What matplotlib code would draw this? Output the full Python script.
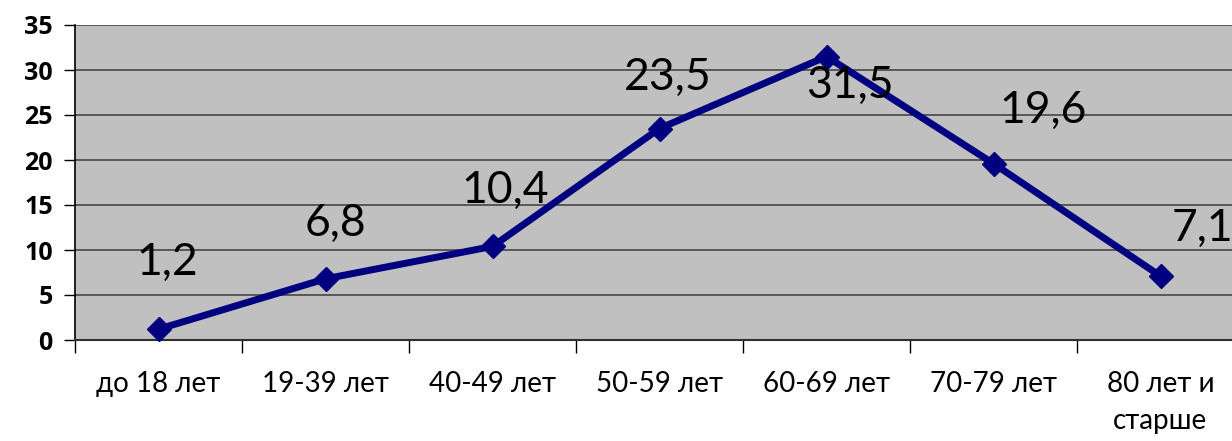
import matplotlib
matplotlib.use("Agg")
import matplotlib.pyplot as plt
from matplotlib.ticker import FixedLocator, NullFormatter

# возрастные группы и доля (%)
groups = ["до 18 лет", "19-39 лет", "40-49 лет", "50-59 лет",
          "60-69 лет", "70-79 лет", "80 лет и\nстарше"]
values = [1.2, 6.8, 10.4, 23.5, 31.5, 19.6, 7.1]
value_labels = ["1,2", "6,8", "10,4", "23,5", "31,5", "19,6", "7,1"]
y_ticks = [0, 5, 10, 15, 20, 25, 30, 35]

# смещения подписей значений (в пунктах)
label_offsets = [(6, 48), (7, 40), (9, 40), (6, 37), (17, -21), (36, 38), (30, 34)]

plt.rcParams["font.family"] = ["Lato", "DejaVu Sans"]

fig = plt.figure(figsize=(12.32, 4.41), dpi=100)
ax = fig.add_axes([75 / 1232, 101 / 441, 1169 / 1232, 315 / 441])
ax.set_facecolor("#c0c0c0")

x = list(range(len(groups)))
ax.plot(x, values, color="#000080", lw=5, marker="D", ms=12,
        mfc="#000080", mec="#000080", zorder=3, clip_on=False)

for xi, v, txt, off in zip(x, values, value_labels, label_offsets):
    ax.annotate(txt, (xi, v), xytext=off, textcoords="offset points",
                ha="center", va="center", fontsize=32, color="black",
                zorder=4, annotation_clip=False)

ax.set_xlim(-0.5, len(groups) - 0.5)
ax.set_ylim(0, 35)
ax.set_yticks(y_ticks)
ax.set_yticklabels([str(t) for t in y_ticks], fontsize=18, fontweight="bold",
                   family=["Open Sans", "DejaVu Sans"])
ax.tick_params(axis="y", direction="out", length=8, width=1, pad=8)

ax.xaxis.set_major_locator(FixedLocator([i - 0.5 for i in range(len(groups) + 1)]))
ax.xaxis.set_major_formatter(NullFormatter())
ax.xaxis.set_minor_locator(FixedLocator(x))
ax.set_xticklabels(groups, minor=True, fontsize=20, linespacing=1.55)
ax.tick_params(axis="x", which="major", direction="out", length=9, width=1)
ax.tick_params(axis="x", which="minor", length=0, pad=22)

ax.grid(axis="y", color="#505050", lw=1.3)
ax.set_axisbelow(True)
for side in ("top", "right"):
    ax.spines[side].set_visible(False)
ax.spines["left"].set_color("black")
ax.spines["bottom"].set_color("#303030")
ax.spines["left"].set_linewidth(1.2)
ax.spines["bottom"].set_linewidth(1.5)

fig.savefig("out.png", dpi=100)
